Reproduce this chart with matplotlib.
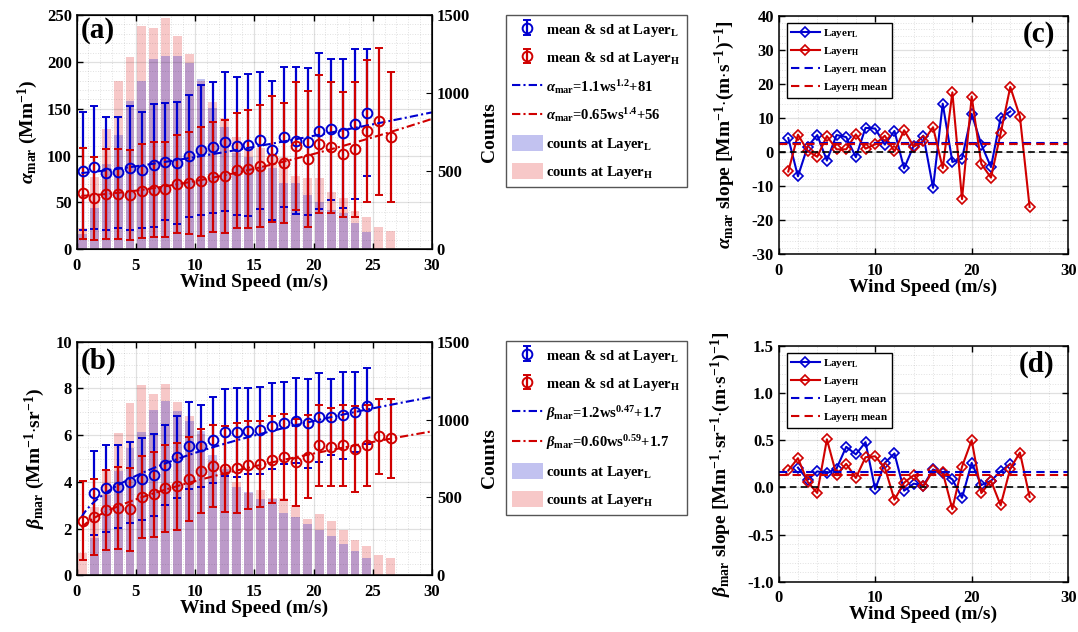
import numpy as np
import matplotlib
matplotlib.use("Agg")
import matplotlib.pyplot as plt
from matplotlib.ticker import MultipleLocator

plt.rcParams['font.family'] = ['Liberation Serif', 'DejaVu Serif']
plt.rcParams['font.weight'] = 'bold'
plt.rcParams['axes.labelweight'] = 'bold'
plt.rcParams['mathtext.fontset'] = 'custom'
plt.rcParams['mathtext.rm'] = 'Liberation Serif:bold'
plt.rcParams['mathtext.bf'] = 'Liberation Serif:bold'
plt.rcParams['mathtext.it'] = 'Liberation Serif:italic'
plt.rcParams['axes.unicode_minus'] = False

# ---------------- data ----------------
bins_L_a = [0.5, 1.5, 2.5, 3.5, 4.5, 5.5, 6.5, 7.5, 8.5, 9.5, 10.5, 11.5, 12.5,
            13.5, 14.5, 15.5, 16.5, 17.5, 18.5, 19.5, 20.5, 21.5, 22.5, 23.5, 24.5]
bins_H = [0.5, 1.5, 2.5, 3.5, 4.5, 5.5, 6.5, 7.5, 8.5, 9.5, 10.5, 11.5, 12.5,
          13.5, 14.5, 15.5, 16.5, 17.5, 18.5, 19.5, 20.5, 21.5, 22.5, 23.5, 24.5, 25.5, 26.5]
bins_L_b = [1.5, 2.5, 3.5, 4.5, 5.5, 6.5, 7.5, 8.5, 9.5, 10.5, 11.5, 12.5,
            13.5, 14.5, 15.5, 16.5, 17.5, 18.5, 19.5, 20.5, 21.5, 22.5, 23.5, 24.5]

alpha_L_mean = [84, 87.5, 81, 82, 87, 85, 89.5, 93.5, 92, 100, 106, 109, 115, 110.5,
                111.5, 116.5, 105.5, 120, 116, 115, 126, 128, 124, 134, 146]
alpha_L_sd = [63, 65.5, 60, 59.5, 66, 62, 65.5, 62.5, 65, 65, 69, 70, 74, 73.5, 75.5,
              73, 74.5, 74.5, 78.5, 78.5, 83, 75.5, 79.5, 80, 68]
alpha_H_mean = [60, 54.5, 59, 59.5, 58, 62.5, 63.5, 64, 69.5, 70.5, 72.5, 77.5, 78, 84.5,
                86, 89, 96.5, 92, 110, 96, 112.5, 109, 101.5, 107, 126, 136.5, 120]
alpha_H_sd = [48.5, 44.5, 48.5, 48, 48, 50, 50.5, 51, 52.5, 54.5, 58, 58.5, 60.5, 61.5,
              63, 65, 67, 64, 68.5, 72.5, 73.5, 70, 66.5, 72, 76, 78.5, 69.5]
counts_a_L = [98, 262, 546, 732, 951, 1077, 1218, 1238, 1238, 1195, 1088, 907, 785,
              615, 590, 530, 518, 426, 426, 348, 305, 254, 230, 166, 113]
counts_a_H = [134, 461, 770, 1077, 1230, 1432, 1415, 1483, 1368, 1250, 1075, 941, 843,
              717, 640, 650, 604, 591, 469, 454, 454, 369, 330, 245, 209, 141, 119]

beta_L_mean = [3.53, 3.72, 3.8, 3.98, 4.12, 4.3, 4.73, 5.08, 5.55, 5.55, 5.8, 6.12, 6.12,
               6.18, 6.2, 6.39, 6.53, 6.61, 6.5, 6.76, 6.79, 6.85, 7.0, 7.25]
beta_L_sd = [1.8, 1.86, 1.79, 1.73, 1.76, 1.76, 1.7, 1.75, 1.85, 1.75, 1.83, 1.85, 1.89,
             1.86, 1.88, 1.83, 1.76, 1.82, 1.9, 1.92, 1.63, 1.86, 1.72, 1.63]
beta_H_mean = [2.34, 2.5, 2.8, 2.87, 2.82, 3.35, 3.48, 3.72, 3.82, 4.12, 4.47, 4.68, 4.55,
               4.59, 4.72, 4.75, 4.94, 5.06, 4.84, 5.08, 5.56, 5.5, 5.56, 5.41, 5.56, 5.95, 5.86]
beta_H_sd = [1.7, 1.64, 1.7, 1.75, 1.78, 1.77, 1.82, 1.85, 1.86, 1.8, 1.8, 1.77, 1.86, 1.93,
             1.87, 1.84, 1.86, 1.85, 1.86, 1.77, 1.73, 1.66, 1.75, 1.84, 1.74, 1.6, 1.68]
counts_b_L = [242, 516, 672, 815, 922, 1061, 1121, 1055, 993, 929, 772, 680, 569, 537,
              490, 490, 398, 376, 327, 291, 250, 201, 158, 113]
counts_b_H = [145, 441, 676, 916, 1108, 1222, 1162, 1228, 1115, 1023, 905, 740, 693, 601,
              530, 548, 498, 498, 451, 361, 394, 349, 291, 225, 188, 130, 109]

# fit parameters (a * ws**b + c)
fit_alpha_L = (1.1, 1.2, 81)
fit_alpha_H = (0.5, 1.5, 57)
fit_beta_L = (1.2, 0.47, 1.7)
fit_beta_H = (0.60, 0.59, 1.7)

slope_x_L_a = list(range(1, 25))
slope_x_H = list(range(1, 27))
slope_x_L_b = list(range(2, 25))
slope_a_L = [4.1, -7.1, 1.6, 5.0, -2.5, 5.0, 4.4, -1.5, 7.1, 6.9, 2.2, 6.2, -4.8, 1.9,
             4.8, -10.5, 14.2, -2.9, -1.9, 11.2, 2.2, -4.4, 10.1, 11.9]
slope_a_H = [-5.7, 5.1, 0.4, -1.4, 4.7, 0.8, 0.8, 5.2, 1.0, 2.3, 4.8, 0.2, 6.4, 1.6, 3.2,
             7.3, -4.7, 17.5, -13.8, 16.3, -3.5, -7.5, 5.5, 19.1, 10.4, -16.1]
slope_b_L = [0.21, 0.08, 0.17, 0.15, 0.2, 0.43, 0.35, 0.48, -0.02, 0.26, 0.36, -0.035,
             0.04, 0.02, 0.19, 0.15, 0.085, -0.11, 0.26, 0.025, 0.07, 0.17, 0.25]
slope_b_H = [0.18, 0.31, 0.06, -0.06, 0.51, 0.13, 0.25, 0.1, 0.32, 0.33, 0.21, -0.13, 0.05,
             0.13, 0.01, 0.18, 0.16, -0.23, 0.22, 0.5, -0.06, 0.07, -0.19, 0.2, 0.37, -0.1]

# ---------------- style ----------------
BLUE = '#0000D0'
RED = '#D00000'
BAR_BLUE = (0.15, 0.15, 0.8, 0.28)
BAR_RED = (0.88, 0.15, 0.15, 0.25)
TICK_FS = 12
LABEL_FS = 14

fig = plt.figure(figsize=(10.78, 6.32), dpi=100)


def style_grid(ax):
    ax.grid(True, which='major', color='black', alpha=0.12, lw=0.9, ls='-')
    ax.grid(True, which='minor', color='black', alpha=0.12, lw=0.7, ls=':')


def style_ticks(ax, right=True):
    ax.tick_params(which='both', direction='in', top=True, right=right,
                   labelsize=TICK_FS, width=1.0)
    ax.tick_params(which='major', length=4)
    ax.tick_params(axis='x', which='major', pad=6)
    ax.tick_params(which='minor', length=0)
    for s in ax.spines.values():
        s.set_linewidth(1.1)


def fit_curve(p, x):
    return p[0] * x ** p[1] + p[2]


def left_panel(rect, bins_L, mL, sL, mH, sH, cL, cH, ymax, ymajor, yminor,
               fitL, fitH, ylab, ylab_x, panel_lab, lab_y, fit_labels, leg_top):
    ax = fig.add_axes(rect)
    ax2 = ax.twinx()
    ax2.bar(bins_H, cH, width=0.75, color=BAR_RED, linewidth=0,
            label='counts at Layer$_{\\mathbf{H}}$')
    ax2.bar(bins_L, cL, width=0.75, color=BAR_BLUE, linewidth=0,
            label='counts at Layer$_{\\mathbf{L}}$')
    ax.set_zorder(ax2.get_zorder() + 1)
    ax.patch.set_visible(False)

    eL = ax.errorbar(bins_L, mL, yerr=sL, fmt='o', color=BLUE, mfc='none', ms=7, mew=1.4,
                     elinewidth=1.6, capsize=2.6, capthick=1.6,
                     label='mean & sd at Layer$_{\\mathbf{L}}$')
    eH = ax.errorbar(bins_H, mH, yerr=sH, fmt='o', color=RED, mfc='none', ms=7, mew=1.4,
                     elinewidth=1.6, capsize=2.6, capthick=1.6,
                     label='mean & sd at Layer$_{\\mathbf{H}}$')
    xs = np.linspace(0.4, 30, 200)
    lL, = ax.plot(xs, fit_curve(fitL, xs), color=BLUE, lw=1.5, dashes=(4, 1.5, 1, 1.5),
                  label=fit_labels[0])
    lH, = ax.plot(xs, fit_curve(fitH, xs), color=RED, lw=1.5, dashes=(4, 1.5, 1, 1.5),
                  label=fit_labels[1])

    ax.set_xlim(0, 30)
    ax.set_ylim(0, ymax)
    ax2.set_ylim(0, 1500)
    ax.xaxis.set_major_locator(MultipleLocator(5))
    ax.xaxis.set_minor_locator(MultipleLocator(1))
    ax.yaxis.set_major_locator(MultipleLocator(ymajor))
    ax.yaxis.set_minor_locator(MultipleLocator(yminor))
    ax2.yaxis.set_major_locator(MultipleLocator(500))
    style_grid(ax)
    style_ticks(ax, right=False)
    ax2.tick_params(which='both', direction='in', labelsize=TICK_FS, length=4)
    for lab in ax.get_xticklabels() + ax.get_yticklabels() + ax2.get_yticklabels():
        lab.set_fontweight('bold')
    ax.set_xlabel('Wind Speed (m/s)', fontsize=LABEL_FS, labelpad=0)
    ax.set_ylabel(ylab, fontsize=LABEL_FS)
    ax.yaxis.set_label_coords(ylab_x, 0.5)
    ax2.set_ylabel('Counts', fontsize=LABEL_FS)
    ax2.yaxis.set_label_coords(1.139, 0.5)
    ax.text(0.012, lab_y, panel_lab, transform=ax.transAxes, fontsize=21,
            fontweight='bold', va='center', ha='left')

    bars = ax2.containers
    handles = [eL, eH, lL, lH, bars[1], bars[0]]
    labels = [h.get_label() for h in handles]
    leg = fig.legend(handles, labels, loc='upper left', bbox_to_anchor=(0.469, leg_top),
                     bbox_transform=fig.transFigure, fontsize=10.5, frameon=True,
                     fancybox=False, edgecolor='#555555', framealpha=1,
                     handlelength=2.1, handleheight=1.3, labelspacing=0.72,
                     borderpad=0.45, handletextpad=0.25, borderaxespad=0)
    leg.get_frame().set_linewidth(1.0)
    return ax


def right_panel(rect, xL, sL, xH, sH, ylim, ymajor, yminor, ylab, ylab_x, panel_lab, lab_y):
    ax = fig.add_axes(rect)
    ax.plot(xL, sL, '-D', color=BLUE, lw=1.5, ms=5, mfc='none', mew=1.2,
            label='Layer$_{\\mathbf{L}}$')
    ax.plot(xH, sH, '-D', color=RED, lw=1.5, ms=5, mfc='none', mew=1.2,
            label='Layer$_{\\mathbf{H}}$')
    ax.axhline(np.mean(sL), color=BLUE, ls='--', lw=1.5, dashes=(4, 2.5),
               label='Layer$_{\\mathbf{L}}$ mean')
    ax.axhline(np.mean(sH), color=RED, ls='--', lw=1.5, dashes=(4, 2.5),
               label='Layer$_{\\mathbf{H}}$ mean')
    ax.axhline(0, color='black', ls='--', lw=1.2, dashes=(4, 2.5))
    ax.set_xlim(0, 30)
    ax.set_ylim(*ylim)
    ax.xaxis.set_major_locator(MultipleLocator(10))
    ax.xaxis.set_minor_locator(MultipleLocator(2))
    ax.yaxis.set_major_locator(MultipleLocator(ymajor))
    ax.yaxis.set_minor_locator(MultipleLocator(yminor))
    style_grid(ax)
    ax.set_axisbelow(True)
    style_ticks(ax)
    for lab in ax.get_xticklabels() + ax.get_yticklabels():
        lab.set_fontweight('bold')
    ax.set_xlabel('Wind Speed (m/s)', fontsize=LABEL_FS, labelpad=0)
    ax.set_ylabel(ylab, fontsize=LABEL_FS)
    ax.yaxis.set_label_coords(ylab_x, 0.5)
    ax.text(0.954, lab_y, panel_lab, transform=ax.transAxes, fontsize=21,
            fontweight='bold', va='center', ha='right')
    leg = ax.legend(loc='upper left', bbox_to_anchor=(0.028, lab_y + 0.045), fontsize=8,
                    frameon=True, fancybox=False, edgecolor='black', framealpha=1,
                    handlelength=2.6, labelspacing=0.45, borderpad=0.35,
                    handletextpad=0.3, borderaxespad=0)
    leg.get_frame().set_linewidth(1.0)
    return ax


left_panel([0.0711, 0.6055, 0.3296, 0.3707], bins_L_a, alpha_L_mean, alpha_L_sd,
           alpha_H_mean, alpha_H_sd, counts_a_L, counts_a_H, 250, 50, 10,
           fit_alpha_L, fit_alpha_H,
           r'$\alpha_{\mathbf{mar}}$ (Mm$^{\mathbf{-1}}$)', -0.103, '(a)', 0.934,
           [r'$\alpha_{\mathbf{mar}}$=1.1ws$^{\mathbf{1.2}}$+81',
            r'$\alpha_{\mathbf{mar}}$=0.65ws$^{\mathbf{1.4}}$+56'], 0.977)

left_panel([0.0711, 0.0897, 0.3296, 0.3696], bins_L_b, beta_L_mean, beta_L_sd,
           beta_H_mean, beta_H_sd, counts_b_L, counts_b_H, 10, 2, 0.5,
           fit_beta_L, fit_beta_H,
           r'$\beta_{\mathbf{mar}}$ (Mm$^{\mathbf{-1}}$$\cdot$sr$^{\mathbf{-1}}$)', -0.083,
           '(b)', 0.917,
           [r'$\beta_{\mathbf{mar}}$=1.2ws$^{\mathbf{0.47}}$+1.7',
            r'$\beta_{\mathbf{mar}}$=0.60ws$^{\mathbf{0.59}}$+1.7'], 0.461)

right_panel([0.7223, 0.5976, 0.2686, 0.3775], slope_x_L_a, slope_a_L, slope_x_H, slope_a_H,
            (-30, 40), 10, 2,
            r'$\alpha_{\mathbf{mar}}$ slope [Mm$^{\mathbf{-1}}$$\cdot$(m$\cdot$s$^{\mathbf{-1}}$)$^{\mathbf{-1}}$]',
            -0.144, '(c)', 0.923)

right_panel([0.7223, 0.0796, 0.2686, 0.373], slope_x_L_b, slope_b_L, slope_x_H, slope_b_H,
            (-1, 1.5), 0.5, 0.1,
            r'$\beta_{\mathbf{mar}}$ slope [Mm$^{\mathbf{-1}}$$\cdot$sr$^{\mathbf{-1}}$$\cdot$(m$\cdot$s$^{\mathbf{-1}}$)$^{\mathbf{-1}}$]',
            -0.158, '(d)', 0.924)

fig.savefig('out.png', dpi=100)
